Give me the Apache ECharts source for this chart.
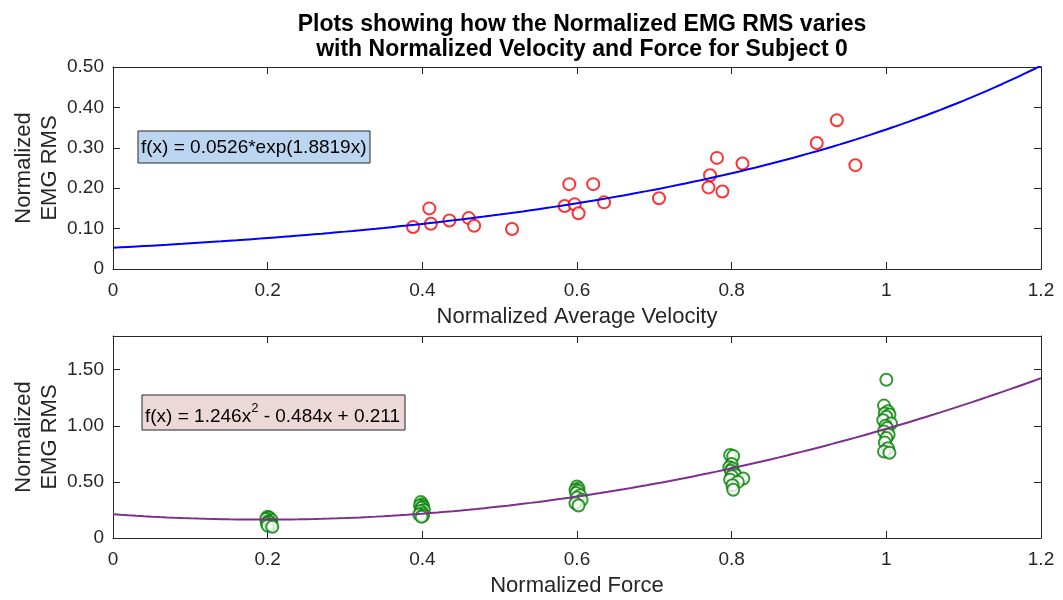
<!DOCTYPE html>
<html>
<head>
<meta charset="utf-8">
<title>EMG RMS vs velocity and force</title>
<script src="https://cdn.jsdelivr.net/npm/echarts@6/dist/echarts.min.js"></script>
<style>
  html, body { margin: 0; padding: 0; background: #fff; }
  #con { width: 1063px; height: 600px; }
</style>
</head>
<body>
<div id="con"></div>
<script>
// top plot: velocity vs EMG RMS
var velX = [0.388, 0.409, 0.411, 0.435, 0.460, 0.467, 0.516, 0.584, 0.590, 0.597, 0.602, 0.621, 0.635,
            0.706, 0.770, 0.772, 0.781, 0.788, 0.814, 0.910, 0.936, 0.960];
var velY = [0.104, 0.150, 0.112, 0.120, 0.126, 0.107, 0.099, 0.156, 0.210, 0.160, 0.138, 0.210, 0.165,
            0.175, 0.202, 0.232, 0.275, 0.192, 0.261, 0.312, 0.368, 0.257];
var expFit = [0.0526, 1.8819]; // a*exp(b*x)

// bottom plot: force vs EMG RMS
var forceX = [0.200, 0.202, 0.198, 0.205, 0.201, 0.203, 0.199, 0.204, 0.200, 0.206,
              0.398, 0.400, 0.397, 0.401, 0.399, 0.402, 0.398, 0.400, 0.396, 0.401, 0.399,
              0.600, 0.602, 0.598, 0.601, 0.599, 0.604, 0.600, 0.606, 0.598, 0.602,
              0.798, 0.802, 0.800, 0.797, 0.801, 0.799, 0.803, 0.805, 0.800, 0.815, 0.798, 0.808, 0.801, 0.802,
              1.000, 0.997, 1.002, 0.998, 1.004, 1.000, 0.996, 1.006, 0.999, 1.001, 0.997, 1.003, 1.000, 0.998, 1.002, 0.997, 1.004];
var forceY = [0.19, 0.18, 0.17, 0.16, 0.15, 0.14, 0.13, 0.12, 0.11, 0.10,
              0.32, 0.30, 0.29, 0.28, 0.27, 0.25, 0.24, 0.22, 0.21, 0.20, 0.19,
              0.46, 0.44, 0.43, 0.42, 0.40, 0.38, 0.36, 0.34, 0.31, 0.29,
              0.74, 0.73, 0.66, 0.63, 0.62, 0.60, 0.58, 0.56, 0.55, 0.53, 0.52, 0.50, 0.47, 0.43,
              1.41, 1.18, 1.13, 1.11, 1.10, 1.08, 1.05, 1.02, 1.00, 0.98, 0.95, 0.92, 0.89, 0.85, 0.80, 0.77, 0.76];
var polyFit = [1.246, -0.484, 0.211]; // a*x^2 + b*x + c

function pairs(xs, ys) {
  var out = [];
  for (var i = 0; i < xs.length; i++) out.push([xs[i], ys[i]]);
  return out;
}

// fitted curves, sampled from the equations shown in the boxes
var expLine = [], polyLine = [];
for (var k = 0; k <= 120; k++) {
  var x = k / 100;
  expLine.push([x, expFit[0] * Math.exp(expFit[1] * x)]);
  polyLine.push([x, polyFit[0] * x * x + polyFit[1] * x + polyFit[2]]);
}

var axisColor = '#262626';
var font = 'Liberation Sans, Arial, sans-serif';

function yFmt(v) { return v === 0 ? '0' : v.toFixed(2); }

function mainX(grid, name) {
  return {
    type: 'value', gridIndex: grid, min: 0, max: 1.2, interval: 0.2,
    name: name, nameLocation: 'middle', nameGap: 37,
    nameTextStyle: { fontSize: 22, color: axisColor, fontFamily: font },
    axisLine: { onZero: false, lineStyle: { color: axisColor } },
    axisTick: { inside: true, length: 7, lineStyle: { color: axisColor } },
    axisLabel: { fontSize: 19, color: axisColor, fontFamily: font, margin: 12 },
    splitLine: { show: false }
  };
}
function mirrorX(grid) {
  return {
    type: 'value', gridIndex: grid, min: 0, max: 1.2, interval: 0.2, position: 'top',
    axisLine: { onZero: false, lineStyle: { color: axisColor } },
    axisTick: { inside: true, length: 7, lineStyle: { color: axisColor } },
    axisLabel: { show: false }, splitLine: { show: false }
  };
}
function mainY(grid, max, step, showMax) {
  return {
    type: 'value', gridIndex: grid, min: 0, max: max, interval: step,
    name: 'Normalized\nEMG RMS', nameLocation: 'middle', nameGap: 50, nameRotate: 90,
    nameMoveOverlap: false,
    nameTextStyle: { fontSize: 22, color: axisColor, fontFamily: font, lineHeight: 26 },
    axisLine: { show: true, onZero: false, lineStyle: { color: axisColor } },
    axisTick: { show: true, inside: true, length: 7, lineStyle: { color: axisColor } },
    axisLabel: { fontSize: 19, color: axisColor, fontFamily: font, margin: 9,
                 showMaxLabel: showMax, formatter: yFmt },
    splitLine: { show: false }
  };
}
function mirrorY(grid, max, step) {
  return {
    type: 'value', gridIndex: grid, min: 0, max: max, interval: step, position: 'right',
    axisLine: { show: true, onZero: false, lineStyle: { color: axisColor } },
    axisTick: { show: true, inside: true, length: 7, lineStyle: { color: axisColor } },
    axisLabel: { show: false }, splitLine: { show: false }
  };
}

var myChart = echarts.init(document.getElementById('con'));

var option = {
  animation: false,
  backgroundColor: '#fff',
  title: {
    text: 'Plots showing how the Normalized EMG RMS varies\nwith Normalized Velocity and Force for Subject 0',
    left: 577, top: 7, textAlign: 'center',
    textStyle: { fontSize: 23, fontWeight: 'bold', color: '#000', fontFamily: font, lineHeight: 25 }
  },
  grid: [
    { left: 113, right: 22, top: 67, height: 202, outerBoundsMode: 'none', containLabel: false },
    { left: 113, right: 22, top: 336, height: 202, outerBoundsMode: 'none', containLabel: false }
  ],
  xAxis: [
    mainX(0, 'Normalized Average Velocity'), mirrorX(0),
    mainX(1, 'Normalized Force'), mirrorX(1)
  ],
  yAxis: [
    mainY(0, 0.5, 0.1, true), mirrorY(0, 0.5, 0.1),
    mainY(1, 1.8, 0.5, false), mirrorY(1, 1.8, 0.5)
  ],
  series: [
    {
      type: 'scatter', xAxisIndex: 0, yAxisIndex: 0,
      symbol: 'emptyCircle', symbolSize: 12,
      itemStyle: { color: '#FF0000', borderWidth: 1 },
      data: pairs(velX, velY), z: 3
    },
    {
      type: 'line', xAxisIndex: 0, yAxisIndex: 0, showSymbol: false,
      lineStyle: { color: '#0000FF', width: 2 }, data: expLine, z: 4
    },
    {
      type: 'scatter', xAxisIndex: 2, yAxisIndex: 2,
      symbol: 'emptyCircle', symbolSize: 12,
      itemStyle: { color: '#008000', borderWidth: 1 },
      data: pairs(forceX, forceY), z: 3
    },
    {
      type: 'line', xAxisIndex: 2, yAxisIndex: 2, showSymbol: false,
      lineStyle: { color: '#7E2F8E', width: 2 }, data: polyLine, z: 4
    }
  ],
  graphic: [
    { type: 'rect', shape: { x: 138, y: 131, width: 232, height: 32 },
      style: { fill: '#BCD5F1', stroke: axisColor, lineWidth: 1 }, z: 10 },
    { type: 'text', x: 141, y: 148, z: 11,
      style: { text: 'f(x) = 0.0526*exp(1.8819x)', fontSize: 19, fontFamily: font,
               fill: '#000', verticalAlign: 'middle' } },
    { type: 'rect', shape: { x: 142, y: 395, width: 263, height: 35 },
      style: { fill: '#EDD8D8', stroke: axisColor, lineWidth: 1 }, z: 10 },
    { type: 'text', x: 145, y: 414, z: 11,
      style: {
        text: '{n|f(x) = 1.246x}{s|2}{n| - 0.484x + 0.211}',
        verticalAlign: 'middle', fill: '#000',
        rich: {
          n: { fontSize: 19, fontFamily: font, fill: '#000', verticalAlign: 'bottom', lineHeight: 24 },
          s: { fontSize: 13, fontFamily: font, fill: '#000', verticalAlign: 'top', lineHeight: 24 }
        }
      } }
  ]
};

myChart.setOption(option);
window.onresize = myChart.resize;
</script>
</body>
</html>
